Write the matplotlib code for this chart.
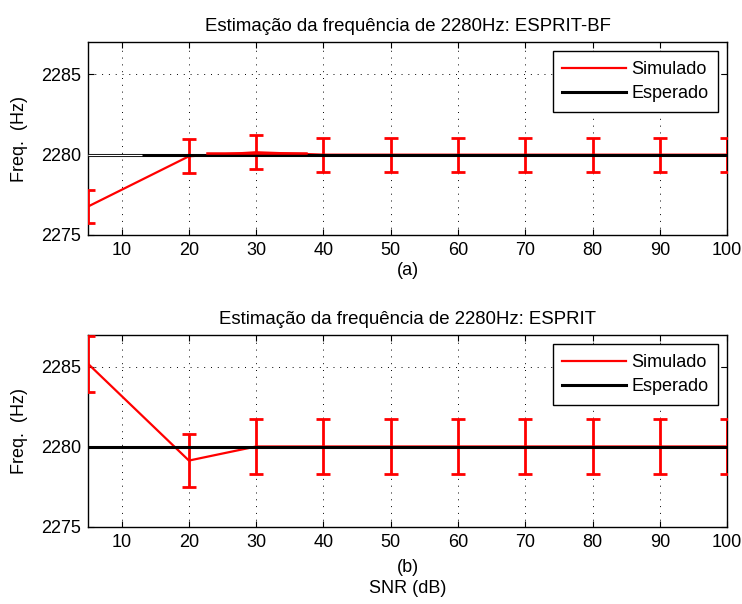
import matplotlib
matplotlib.use("Agg")
import matplotlib.pyplot as plt
from matplotlib.lines import Line2D

plt.rcParams['font.family'] = ['Liberation Sans', 'DejaVu Sans']

snr = [5, 20, 30, 40, 50, 60, 70, 80, 90, 100]
expected = 2280

# ESPRIT-BF
bf_mean = [2276.77, 2279.9, 2280.15, 2280.0, 2280.0, 2280.0, 2280.0, 2280.0, 2280.0, 2280.0]
bf_err = [1.05, 1.05, 1.05, 1.05, 1.05, 1.05, 1.05, 1.05, 1.05, 1.05]
bf_glitch_x = [22.7, 37.4]   # stray red segment seen in the original
bf_glitch_y = [2280.12, 2280.12]
bf_hollow_x = [5, 13]        # hollow part of the expected line

# ESPRIT
es_mean = [2285.2, 2279.15, 2280.03, 2280.03, 2280.03, 2280.03, 2280.03, 2280.03, 2280.03, 2280.03]
es_err = [1.75, 1.67, 1.71, 1.71, 1.71, 1.71, 1.71, 1.71, 1.71, 1.71]

xticks = [10, 20, 30, 40, 50, 60, 70, 80, 90, 100]
yticks = [2275, 2280, 2285]

FS = 13

fig = plt.figure(figsize=(7.42, 6.04), dpi=100)
ax1 = fig.add_axes([0.1186, 0.611, 0.8614, 0.319])
ax2 = fig.add_axes([0.1186, 0.1275, 0.8614, 0.318])


def style(ax, title, xlabel, xpad):
    ax.set_xlim(5, 100)
    ax.set_ylim(2275, 2287)
    ax.set_xticks(xticks)
    ax.set_yticks(yticks)
    ax.tick_params(direction='in', top=True, right=True, labelsize=FS,
                   length=4, pad=5)
    ax.grid(True, linestyle=(0, (1, 6)), color='black', linewidth=0.7)
    ax.set_axisbelow(True)
    ax.set_title(title, fontsize=FS + 0.4, pad=8)
    ax.set_xlabel(xlabel, fontsize=FS, labelpad=xpad, linespacing=1.25)
    ax.set_ylabel('Freq.  (Hz)', fontsize=FS, labelpad=9)
    for s in ax.spines.values():
        s.set_linewidth(1.0)
    handles = [Line2D([], [], color='red', lw=1.6),
               Line2D([], [], color='black', lw=2.2)]
    ax.legend(handles, ['Simulado', 'Esperado'], loc='upper right',
              fontsize=FS, frameon=True, fancybox=False, edgecolor='black',
              framealpha=1, handlelength=3.5, borderaxespad=0.5,
              labelspacing=0.4, handletextpad=0.3, borderpad=0.55)


ax1.errorbar(snr, bf_mean, yerr=bf_err, color='red', lw=1.6, capsize=5,
             capthick=2, elinewidth=2, zorder=3)
ax1.plot(bf_glitch_x, bf_glitch_y, color='red', lw=1.8, zorder=4)
ax1.axhline(expected, color='black', lw=2.2, zorder=3.5)
ax1.plot(bf_hollow_x, [expected, expected], color='white', lw=0.9, zorder=3.6,
         solid_capstyle='butt')
style(ax1, 'Estimação da frequência de 2280Hz: ESPRIT-BF', '(a)', 2)

ax2.errorbar(snr, es_mean, yerr=es_err, color='red', lw=1.6, capsize=5,
             capthick=2, elinewidth=2, zorder=3)
ax2.axhline(expected, color='black', lw=2.2, zorder=3.5)
style(ax2, 'Estimação da frequência de 2280Hz: ESPRIT', '(b)\nSNR (dB)', 6)

fig.savefig('out.png', dpi=100)
